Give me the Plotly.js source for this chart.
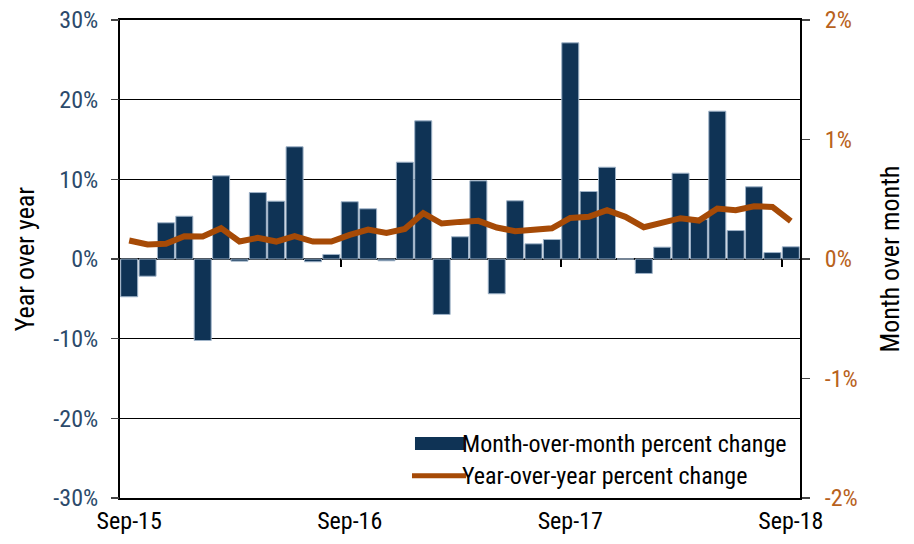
<!DOCTYPE html>
<html>
<head>
<meta charset="utf-8">
<script src="https://cdn.plot.ly/plotly-3.0.1.min.js"></script>
<style>
  html, body { margin: 0; padding: 0; background: #ffffff; }
  #chart { width: 914px; height: 544px; }
</style>
</head>
<body>
<div id="chart"></div>
<script>
// ---- Data ----
const months = ['Sep-15','Oct-15','Nov-15','Dec-15','Jan-16','Feb-16','Mar-16','Apr-16','May-16','Jun-16','Jul-16','Aug-16',
                'Sep-16','Oct-16','Nov-16','Dec-16','Jan-17','Feb-17','Mar-17','Apr-17','May-17','Jun-17','Jul-17','Aug-17',
                'Sep-17','Oct-17','Nov-17','Dec-17','Jan-18','Feb-18','Mar-18','Apr-18','May-18','Jun-18','Jul-18','Aug-18',
                'Sep-18'];
// Month-over-month percent change (right axis, %)
const momChange = [-0.316,-0.144,0.303,0.358,-0.682,0.696,-0.018,0.556,0.484,0.939,-0.023,0.038,
                   0.479,0.420,-0.015,0.810,1.156,-0.464,0.186,0.654,-0.291,0.487,0.127,0.163,
                   1.809,0.565,0.768,0,-0.121,0.099,0.718,0.330,1.237,0.238,0.604,0.054,
                   0.102];
// Year-over-year percent change (left axis, %)
const yoyChange = [2.32,1.82,1.90,2.86,2.82,3.87,2.19,2.65,2.19,2.86,2.19,2.19,
                   3.03,3.70,3.28,3.78,5.75,4.45,4.66,4.79,3.95,3.49,3.66,3.85,
                   5.16,5.29,6.12,5.29,3.99,4.62,5.12,4.83,6.33,6.12,6.62,6.54,
                   4.74];
const seriesNames = ['Month-over-month percent change', 'Year-over-year percent change'];
const labelMonths = ['Sep-15','Sep-16','Sep-17','Sep-18'];
const leftTicks = [-30,-20,-10,0,10,20,30];
const rightTicks = [-2,-1,0,1,2];

// ---- Build ----
const idx = months.map((m, i) => i);
const labelIdx = labelMonths.map(m => months.indexOf(m));
const boundaryIdx = labelIdx.slice(1).map(i => i - 0.5);

const FONT = 'Liberation Sans Narrow, Arial Narrow, Roboto Condensed, sans-serif';
const BAR = '#0f3355';
const LINE = '#a64a06';

const traces = [
  {
    type: 'bar', name: seriesNames[0], x: idx, y: momChange,
    xaxis: 'x', yaxis: 'y',
    marker: { color: BAR, line: { color: '#9fb3c8', width: 1 } },
    hoverinfo: 'skip', showlegend: false
  },
  {
    type: 'scatter', mode: 'lines', name: seriesNames[1], x: idx, y: yoyChange,
    xaxis: 'x', yaxis: 'y2',
    line: { color: LINE, width: 6, shape: 'linear' },
    hoverinfo: 'skip', showlegend: false
  },
  {
    // carrier for the zero-line tick axis (draws nothing)
    type: 'scatter', mode: 'none', x: idx, y: yoyChange,
    xaxis: 'x2', yaxis: 'y2', hoverinfo: 'skip', showlegend: false
  }
];

const layout = {
  width: 914, height: 544,
  margin: { l: 120, r: 114, t: 20, b: 46 },
  paper_bgcolor: '#ffffff', plot_bgcolor: '#ffffff',
  font: { family: FONT, size: 24, color: '#000000' },
  bargap: 0.075,
  showlegend: false,
  xaxis: {
    range: [-0.5, 36.5], tickvals: labelIdx, ticktext: labelMonths,
    ticks: '', showgrid: false, zeroline: false,
    showline: true, mirror: true, linecolor: '#000000', linewidth: 2,
    tickfont: { family: FONT, size: 24, color: '#000000' }
  },
  xaxis2: {
    overlaying: 'x', anchor: 'free', position: 0.5, side: 'bottom',
    range: [-0.5, 36.5], tickvals: boundaryIdx, ticks: 'outside', ticklen: 7,
    tickcolor: '#000000', tickwidth: 2,
    showticklabels: false, showgrid: false, zeroline: false, showline: false
  },
  yaxis: {
    side: 'right', range: [-2, 2], tickvals: rightTicks,
    ticktext: rightTicks.map(v => v + '%'),
    ticks: 'outside', ticklen: 8, tickcolor: '#444444', tickwidth: 1.5,
    ticklabelstandoff: 10,
    showgrid: false, zeroline: true, zerolinecolor: '#000000', zerolinewidth: 2,
    showline: true, mirror: true, linecolor: '#000000', linewidth: 2,
    tickfont: { family: FONT, size: 24, color: '#b8621d' },
    title: { text: 'Month over month', font: { family: FONT, size: 26, color: '#000000' }, standoff: 24 }
  },
  yaxis2: {
    overlaying: 'y', side: 'left', range: [-30, 30], tickvals: leftTicks,
    ticktext: leftTicks.map(v => v + '%'),
    ticks: 'outside', ticklen: 8, tickcolor: '#444444', tickwidth: 1.5,
    ticklabelstandoff: 8,
    showgrid: true, gridcolor: '#000000', gridwidth: 1.5,
    zeroline: false, showline: false,
    tickfont: { family: FONT, size: 24, color: '#2c4a6b' },
    title: { text: 'Year over year', font: { family: FONT, size: 26, color: '#000000' }, standoff: 11 }
  },
  shapes: [
    { type: 'rect', xref: 'paper', yref: 'paper', x0: 0.4338, x1: 0.5059, y0: 0.1004, y1: 0.1276,
      fillcolor: BAR, line: { width: 0 } },
    { type: 'line', xref: 'paper', yref: 'paper', x0: 0.4294, x1: 0.5088, y0: 0.0467, y1: 0.0467,
      line: { color: LINE, width: 5 } }
  ],
  annotations: [
    { xref: 'paper', yref: 'paper', x: 0.5, y: 0.114, xanchor: 'left', yanchor: 'middle',
      text: seriesNames[0], showarrow: false, font: { family: FONT, size: 24, color: '#000000' } },
    { xref: 'paper', yref: 'paper', x: 0.5, y: 0.046, xanchor: 'left', yanchor: 'middle',
      text: seriesNames[1], showarrow: false, font: { family: FONT, size: 24, color: '#000000' } }
  ]
};

Plotly.newPlot('chart', traces, layout, { staticPlot: true, displayModeBar: false });
</script>
</body>
</html>
